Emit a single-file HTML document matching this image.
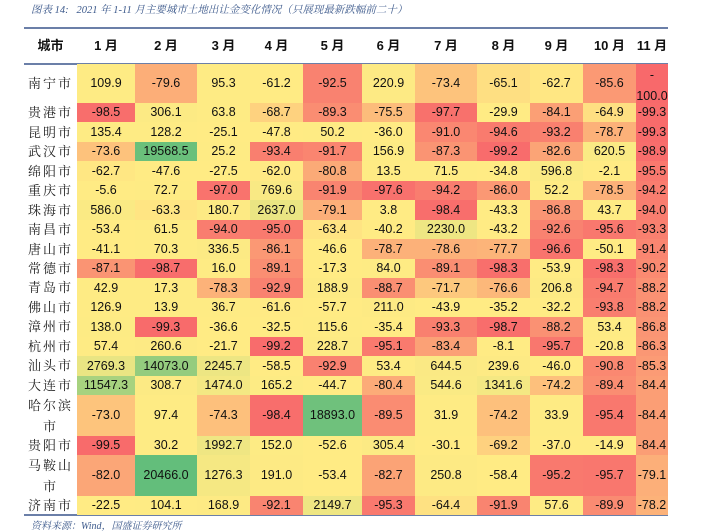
<!DOCTYPE html>
<html><head><meta charset="utf-8">
<style>
html,body{margin:0;padding:0;background:#fff;}
body{width:707px;height:531px;position:relative;overflow:hidden;font-family:"Liberation Sans","Noto Sans CJK SC",sans-serif;}
.title{position:absolute;left:31px;top:2px;font-size:10.5px;font-style:italic;color:#3d5a8c;font-family:"Liberation Serif","Noto Serif CJK SC",serif;white-space:nowrap;}
.src{position:absolute;left:31px;top:517px;font-size:10px;font-style:italic;color:#3d5a8c;font-family:"Liberation Serif","Noto Serif CJK SC",serif;}
.rule{position:absolute;left:24px;width:644px;height:1.5px;background:#6b7fa8;}
.c{position:absolute;display:flex;align-items:center;justify-content:center;text-align:center;font-size:12.5px;color:#111;line-height:15px;box-sizing:border-box;white-space:nowrap;}
.h{font-weight:bold;font-size:13px;font-family:"Liberation Sans","Noto Sans CJK SC",sans-serif;}
.city{font-family:"Liberation Serif","Noto Serif CJK SC",serif;letter-spacing:2px;font-size:13px;color:#222;line-height:21px;white-space:normal;}
</style></head><body>
<div class="title">图表 14:&nbsp;&nbsp;&nbsp;2021 年 1-11 月主要城市土地出让金变化情况（只展现最新跌幅前二十）</div>
<div class="rule" style="top:27px"></div>
<div class="rule" style="top:63px"></div>
<div class="rule" style="top:514px"></div>
<div class="src">资料来源：Wind，国盛证券研究所</div>
<div id="g"></div>
<script>
var widths=[53,58,62,53,53,59,53,62,53,53,53,32];
var heads=["城市","1 月","2 月","3 月","4 月","5 月","6 月","7 月","8 月","9 月","10 月","11 月"];
var data=[
["南宁市",109.9,-79.6,95.3,-61.2,-92.5,220.9,-73.4,-65.1,-62.7,-85.6,-100.0],
["贵港市",-98.5,306.1,63.8,-68.7,-89.3,-75.5,-97.7,-29.9,-84.1,-64.9,-99.3],
["昆明市",135.4,128.2,-25.1,-47.8,50.2,-36.0,-91.0,-94.6,-93.2,-78.7,-99.3],
["武汉市",-73.6,19568.5,25.2,-93.4,-91.7,156.9,-87.3,-99.2,-82.6,620.5,-98.9],
["绵阳市",-62.7,-47.6,-27.5,-62.0,-80.8,13.5,71.5,-34.8,596.8,-2.1,-95.5],
["重庆市",-5.6,72.7,-97.0,769.6,-91.9,-97.6,-94.2,-86.0,52.2,-78.5,-94.2],
["珠海市",586.0,-63.3,180.7,2637.0,-79.1,3.8,-98.4,-43.3,-86.8,43.7,-94.0],
["南昌市",-53.4,61.5,-94.0,-95.0,-63.4,-40.2,2230.0,-43.2,-92.6,-95.6,-93.3],
["唐山市",-41.1,70.3,336.5,-86.1,-46.6,-78.7,-78.6,-77.7,-96.6,-50.1,-91.4],
["常德市",-87.1,-98.7,16.0,-89.1,-17.3,84.0,-89.1,-98.3,-53.9,-98.3,-90.2],
["青岛市",42.9,17.3,-78.3,-92.9,188.9,-88.7,-71.7,-76.6,206.8,-94.7,-88.2],
["佛山市",126.9,13.9,36.7,-61.6,-57.7,211.0,-43.9,-35.2,-32.2,-93.8,-88.2],
["漳州市",138.0,-99.3,-36.6,-32.5,115.6,-35.4,-93.3,-98.7,-88.2,53.4,-86.8],
["杭州市",57.4,260.6,-21.7,-99.2,228.7,-95.1,-83.4,-8.1,-95.7,-20.8,-86.3],
["汕头市",2769.3,14073.0,2245.7,-58.5,-92.9,53.4,644.5,239.6,-46.0,-90.8,-85.3],
["大连市",11547.3,308.7,1474.0,165.2,-44.7,-80.4,544.6,1341.6,-74.2,-89.4,-84.4],
["哈尔滨<br>市",-73.0,97.4,-74.3,-98.4,18893.0,-89.5,31.9,-74.2,33.9,-95.4,-84.4],
["贵阳市",-99.5,30.2,1992.7,152.0,-52.6,305.4,-30.1,-69.2,-37.0,-14.9,-84.4],
["马鞍山<br>市",-82.0,20466.0,1276.3,191.0,-53.4,-82.7,250.8,-58.4,-95.2,-95.7,-79.1],
["济南市",-22.5,104.1,168.9,-92.1,2149.7,-95.3,-64.4,-91.9,57.6,-89.9,-78.2]];
var tops=[64];
for(var i=0;i<16;i++)tops.push(103+i*19.47);
tops.push(436,455,496,514);
var all=[];data.forEach(function(r){for(var j=1;j<12;j++)all.push(r[j]);});
var s=all.slice().sort(function(a,b){return a-b});
var mn=s[0],mx=s[s.length-1],md=(s[Math.floor(s.length/2)]+s[Math.ceil(s.length/2)-1])/2;
var R=[248,105,107],Y=[255,235,132],G=[99,190,123];
function mix(a,b,t){return "rgb("+a.map(function(x,k){return Math.round(x+(b[k]-x)*t)}).join(",")+")";}
function col(v){if(v<=md)return mix(R,Y,(v-mn)/(md-mn));return mix(Y,G,(v-md)/(mx-md));}
var h="",x=24;
for(var j=0;j<12;j++){h+='<div class="c h" style="left:'+x+'px;top:28px;width:'+widths[j]+'px;height:35px">'+heads[j]+'</div>';x+=widths[j];}
for(var i=0;i<20;i++){
 var t=tops[i],hh=tops[i+1]-t;x=24;
 for(var j=0;j<12;j++){
  var v=data[i][j];
  if(j==0){h+='<div class="c city" style="left:'+x+'px;top:'+t+'px;width:'+widths[j]+'px;height:'+hh+'px">'+v+'</div>';}
  else{var txt=v.toFixed(1);if(i==0&&j==11)txt='-<br>100.0';
   h+='<div class="c" style="left:'+x+'px;top:'+t+'px;width:'+widths[j]+'px;height:'+(hh+0.5)+'px;background:'+col(v)+(i==0&&j==11?';line-height:21px;padding-top:4px;white-space:normal':'')+'">'+txt+'</div>';}
  x+=widths[j];
 }
}
document.getElementById("g").innerHTML=h;
</script>
</body></html>
